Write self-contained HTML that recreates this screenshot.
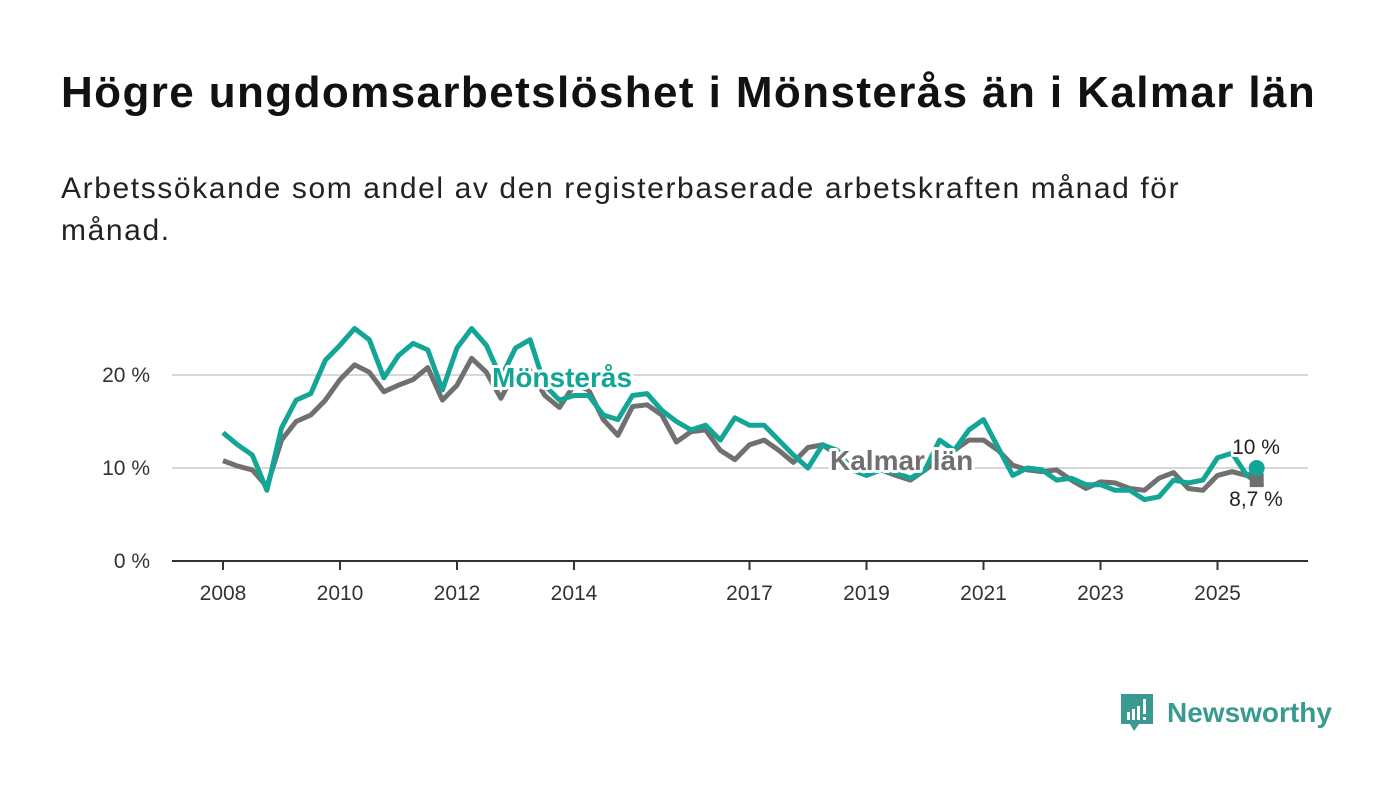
<!DOCTYPE html>
<html><head><meta charset="utf-8"><style>
body{margin:0;background:#fff;width:1400px;height:794px;overflow:hidden;font-family:"Liberation Sans",sans-serif;}
#title{position:absolute;left:61px;top:68px;font-size:44px;font-weight:bold;color:#111;letter-spacing:1.4px;margin:0;white-space:nowrap}
#sub{position:absolute;left:61px;top:168px;font-size:30px;color:#222;line-height:42px;margin:0;letter-spacing:1.6px;white-space:nowrap}
svg{position:absolute;left:0;top:0}
</style></head><body>
<h1 id="title">Högre ungdomsarbetslöshet i Mönsterås än i Kalmar län</h1>
<p id="sub">Arbetssökande som andel av den registerbaserade arbetskraften månad för<br>månad.</p>
<svg id="chart" width="1400" height="794"></svg>
<script>
const yTicks=[0,10,20];
const yTickLabels=["0 %","10 %","20 %"];
const xTicks=[2008,2010,2012,2014,2017,2019,2021,2023,2025];
const startYear=2008, step=0.25;
const monsteras=[13.8,12.5,11.4,7.6,14.3,17.3,18,21.6,23.2,25,23.8,19.7,22.1,23.4,22.7,18.4,22.9,25,23.2,19.7,22.9,23.8,18.9,17.3,17.8,17.8,15.7,15.2,17.8,18,16.2,15,14.1,14.6,13,15.4,14.6,14.6,13,11.4,10,12.5,11.9,9.8,9.2,9.8,9.5,8.9,9.8,13,11.9,14.1,15.2,12.2,9.2,10,9.8,8.7,8.9,8.2,8.2,7.6,7.6,6.6,6.9,8.7,8.4,8.7,11.1,11.6,9.2,9.8,10];
const kalmar=[10.8,10.2,9.8,8,13,15,15.7,17.3,19.5,21.1,20.3,18.2,18.9,19.5,20.8,17.3,18.9,21.8,20.3,17.5,20.5,20.5,17.8,16.5,18.9,18.4,15.2,13.5,16.6,16.8,15.7,12.8,13.9,14.1,11.9,10.9,12.5,13,11.9,10.6,12.2,12.5,11.4,9.8,9.6,9.8,9.2,8.7,9.8,10.9,11.9,13,13,11.9,10.3,9.8,9.6,9.8,8.7,7.8,8.5,8.4,7.8,7.6,8.9,9.5,7.8,7.6,9.2,9.6,9.2,8.2,8.7];
const lastX=2025.67;
const NS="http://www.w3.org/2000/svg";
const svg=document.getElementById('chart');
const xs=y=>223+(y-2008)*58.5;
const ys=v=>561-v*9.3;
const tx=(i,n)=>i===n-1?lastX:startYear+i*step;
function el(t,a){const e=document.createElementNS(NS,t);for(const k in a)e.setAttribute(k,a[k]);svg.appendChild(e);return e;}
yTicks.forEach((v,i)=>{
 const g=el('line',{x1:172,x2:1308,y1:ys(v),y2:ys(v),stroke:v===0?'#333':'#d8d8d8','stroke-width':2});
 
 
 const t=el('text',{x:150,y:ys(v)+7,'text-anchor':'end','font-size':21,fill:'#333','font-family':'Liberation Sans, sans-serif'});
 t.textContent=yTickLabels[i];
 
 
});
xTicks.forEach(y=>{
 const l=el('line',{x1:xs(y),x2:xs(y),y1:561,y2:570,stroke:'#333','stroke-width':2});
 
 
 const t=el('text',{x:xs(y),y:600,'text-anchor':'middle','font-size':21,fill:'#333','font-family':'Liberation Sans, sans-serif'});
 t.textContent=y;
 
 
});
function line(arr,color,name){
 const d=arr.map((v,i)=>(i?'L':'M')+xs(tx(i,arr.length)).toFixed(1)+','+ys(v).toFixed(1)).join('');
 const p=el('path',{d:d,fill:'none',stroke:color,'stroke-width':5,'stroke-linejoin':'round'});
 
 
}
line(kalmar,'#707070','kalmar-line');
line(monsteras,'#13a596','monsteras-line');
const sq=el('rect',{x:xs(lastX)-7,y:ys(kalmar[kalmar.length-1])-7,width:14,height:14,fill:'#707070'});


const dot=el('circle',{cx:xs(lastX),cy:ys(monsteras[monsteras.length-1]),r:8,fill:'#13a596'});


function label(txt,x,y,color,size,bold,name,anchor){
 const t=el('text',{x:x,y:y,'font-size':size,'font-weight':bold?'bold':'normal',fill:color,stroke:'#fff','stroke-width':6,'paint-order':'stroke','stroke-linejoin':'round','text-anchor':anchor||'start','font-family':'Liberation Sans, sans-serif'});
 t.textContent=txt;
 
 
}
label('Mönsterås',492,387,'#13a596',28,true,'monsteras-label');
label('Kalmar län',830,470,'#707070',28,true,'kalmar-label');
label('10 %',1256,454,'#222',21,false,'monsteras-end-value','middle');
label('8,7 %',1256,506,'#222',21,false,'kalmar-end-value','middle');
</script>
<div style="position:absolute;left:1119px;top:692px;display:flex;align-items:center">
<svg width="36" height="42" style="position:static"><path d="M2 2h32v30H20l-5 7-4-7H2z" fill="#3a9a92"/><rect x="8" y="20" width="3" height="8" fill="#fff"/><rect x="13" y="17" width="3" height="11" fill="#fff"/><rect x="18" y="14" width="3" height="14" fill="#fff"/><rect x="24" y="7" width="3" height="15" fill="#fff"/><rect x="24" y="25" width="3" height="3" fill="#fff"/></svg>
<span style="margin-left:12px;font-size:28px;font-weight:bold;color:#3a9a92;font-family:'Liberation Sans',sans-serif">Newsworthy</span>
</div>
</body></html>
